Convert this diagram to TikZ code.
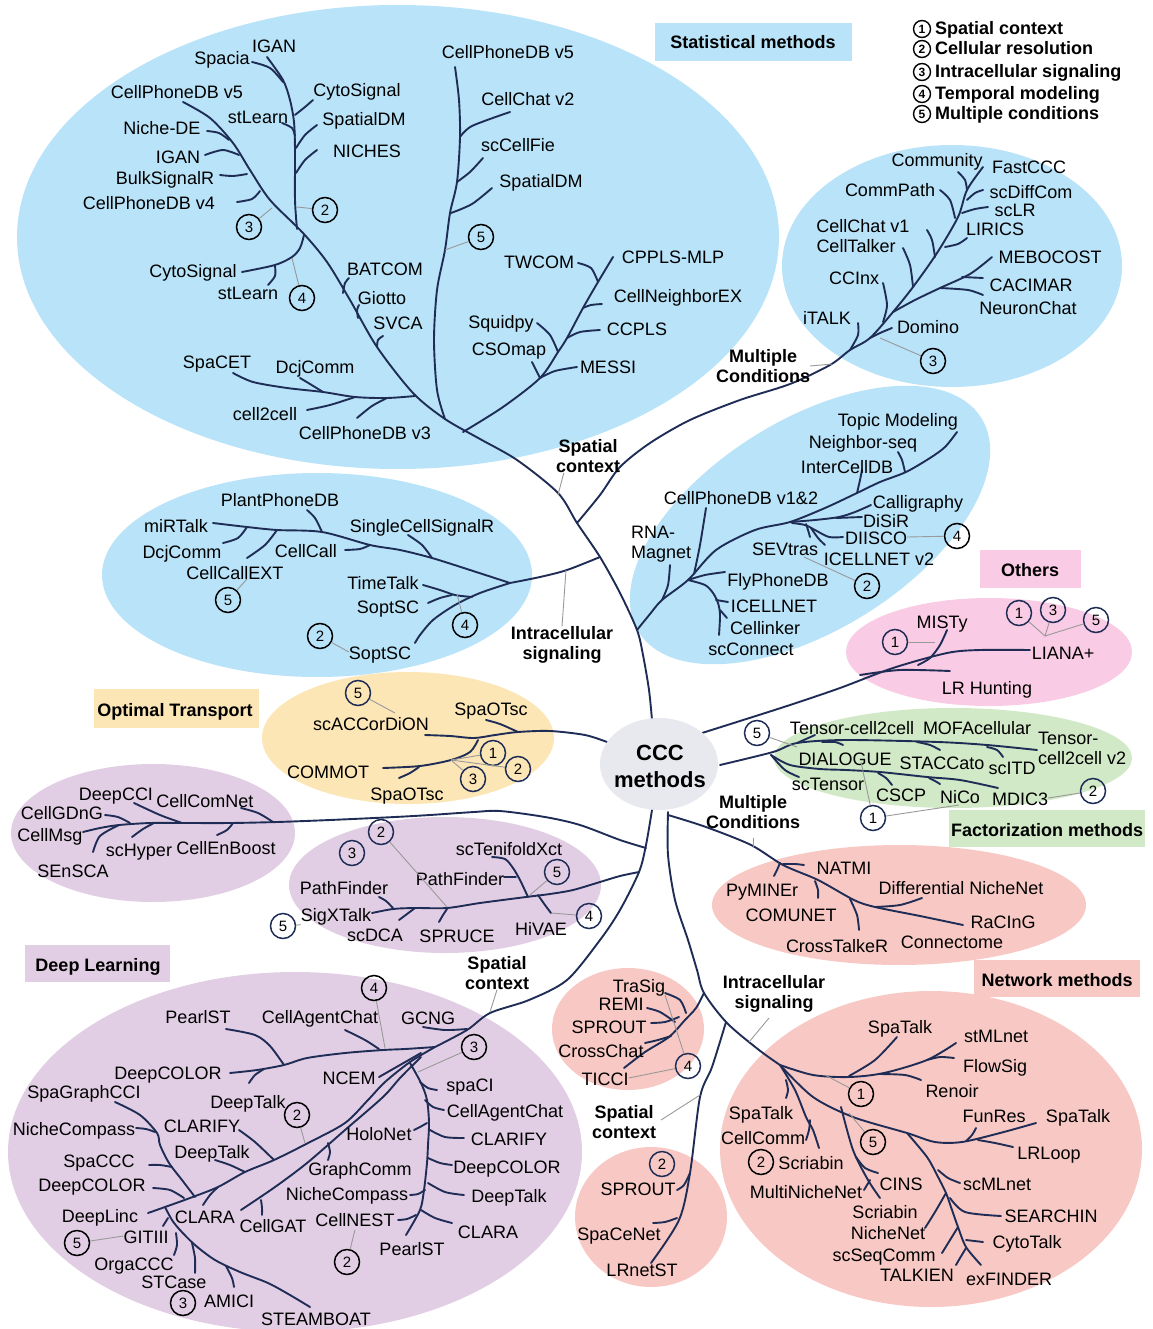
\documentclass[tikz,border=0pt]{standalone}
\usepackage{fontspec}
\setmainfont{Liberation Sans}

\definecolor{navy}{HTML}{1F2D56}
\definecolor{skyfill}{HTML}{B8E3F8}
\definecolor{lilacfill}{HTML}{E2CEE4}
\definecolor{salmonfill}{HTML}{F8C9C4}
\definecolor{pinkfill}{HTML}{F9CBE4}
\definecolor{mintfill}{HTML}{D1E9C6}
\definecolor{sandfill}{HTML}{FCE6B6}
\definecolor{cloudfill}{HTML}{E8E9EE}

\begin{document}
\begin{tikzpicture}[x=1pt, y=-1pt]
\tikzstyle{every node}=[font=\fontsize{18}{20}\selectfont, inner sep=0pt, text height=17.5pt, text depth=3.5pt]
\tikzstyle{branch}=[draw=navy, line width=1.9pt, line cap=round, line join=round]
\tikzstyle{lead}=[draw=gray!80, line width=0.9pt]
\tikzstyle{cnum}=[circle, draw=black, line width=1.5pt, minimum size=25pt, font=\fontsize{15}{15}\selectfont, text height=10.5pt, text depth=0pt]
\tikzstyle{cnumb}=[cnum, draw=navy]
\tikzstyle{legc}=[circle, draw=black, line width=1.4pt, minimum size=17pt, font=\bfseries\fontsize{12}{12}\selectfont, text height=8.6pt, text depth=0pt]
\tikzstyle{grp}=[font=\bfseries\fontsize{18}{20}\selectfont, align=center, text height=, text depth=]
\tikzstyle{tag}=[font=\bfseries\fontsize{18}{20}\selectfont]

\useasboundingbox (0,0) rectangle (1152,1329);

% backgrounds
\fill[skyfill] (398,237) ellipse [x radius=381pt, y radius=232pt]; % statistical
\fill[skyfill] (952,266) ellipse [x radius=170pt, y radius=121pt]; % multiple conditions
\fill[skyfill] (317,575) ellipse [x radius=215pt, y radius=102pt]; % intracellular
\fill[skyfill, rotate around={32:(810,525)}] (810,525) ellipse [x radius=202pt, y radius=105pt]; % spatial
\fill[pinkfill] (989,652) ellipse [x radius=143pt, y radius=54pt];
\fill[mintfill] (953,758) ellipse [x radius=179pt, y radius=50pt];
\fill[sandfill] (408,738) ellipse [x radius=146pt, y radius=66pt];
\fill[lilacfill] (153,833) ellipse [x radius=142pt, y radius=69pt];
\fill[lilacfill] (445,885) ellipse [x radius=156pt, y radius=68pt];
\fill[lilacfill] (295,1152) ellipse [x radius=287pt, y radius=180pt];
\fill[salmonfill] (899,905) ellipse [x radius=187pt, y radius=60pt];
\fill[salmonfill] (628,1029) ellipse [x radius=76pt, y radius=61pt];
\fill[salmonfill] (651,1217) ellipse [x radius=76pt, y radius=70pt];
\fill[salmonfill] (931,1149) ellipse [x radius=211pt, y radius=158pt];

% tag boxes
\fill[skyfill] (655,23) rectangle (852,61);
    \node[tag] (statlbl) at (753,42) {Statistical methods};
\fill[pinkfill] (980,550) rectangle (1081,588);
    \node[tag] (othlbl) at (1030,569) {Others};
\fill[sandfill] (94,689) rectangle (259,728);
    \node[tag] (otlbl) at (175,709) {Optimal Transport};
\fill[mintfill] (949,810) rectangle (1145,847);
    \node[tag] (faclbl) at (1047,829) {Factorization methods};
\fill[lilacfill] (25,945) rectangle (170,982);
    \node[tag] (dllbl) at (98,964) {Deep Learning};
\fill[salmonfill] (974,960) rectangle (1140,997);
    \node[tag] (netlbl) at (1057,979) {Network methods};

% legend
\node[legc] (lc1) at (922,29) {1};
\node[legc] (lc2) at (922,49) {2};
\node[legc] (lc3) at (922,72) {3};
\node[legc] (lc4) at (922,94) {4};
\node[legc] (lc5) at (922,114) {5};
\node[tag, anchor=west] (leg1) at (935,28) {Spatial context};
\node[tag, anchor=west] (leg2) at (935,48) {Cellular resolution};
\node[tag, anchor=west] (leg3) at (935,71) {Intracellular signaling};
\node[tag, anchor=west] (leg4) at (935,93) {Temporal modeling};
\node[tag, anchor=west] (leg5) at (935,113) {Multiple conditions};

%% ---------------- statistical methods
\draw[branch] plot[smooth] coordinates {(652,720) (649,690) (643,655) (637,630) (620,593) (600,557) (577,523) (558,493) (517,460) (480,439) (445,419) (413,393) (377,347) (350,300) (327,262) (303,233) (270,200) (250,170) (233,143) (210,118) (183,102)}; % trunk
\draw[branch] plot[smooth] coordinates {(297,229) (295,200) (295,150) (294,122) (290,100) (283,80) (267,57)}; % IGAN stem
\draw[branch] plot[smooth] coordinates {(252,62) (270,68) (283,82)};
\draw[branch] plot[smooth] coordinates {(295,115) (305,107) (313,100)};
\draw[branch] plot[smooth] coordinates {(282,123) (292,128) (295,136)};
\draw[branch] plot[smooth] coordinates {(296,148) (305,135) (317,125)};
\draw[branch] plot[smooth] coordinates {(296,173) (305,160) (317,150)};
\draw[branch] plot[smooth] coordinates {(207,131) (219,133) (229,140)}; % Niche-DE
\draw[branch] plot[smooth] coordinates {(205,155) (223,150) (239,155)};
\draw[branch] plot[smooth] coordinates {(220,175) (233,176) (247,174)};
\draw[branch] plot[smooth] coordinates {(237,202) (252,199) (260,191)};
\draw[branch] plot[smooth] coordinates {(304,235) (300,248) (292,257) (275,265) (242,272)}; % CytoSignal
\draw[branch] plot[smooth] coordinates {(275,266) (275,276) (268,285)};
\draw[branch] plot[smooth] coordinates {(343,293) (345,283) (349,278)};
\draw[branch] plot[smooth] coordinates {(358,318) (357,310) (359,305)};
\draw[branch] plot[smooth] coordinates {(377,347) (378,340) (383,336)};
\draw[branch] plot[smooth] coordinates {(415,396) (387,398) (355,397) (323,392) (287,388) (253,382) (233,373)}; % SpaCET
\draw[branch] plot[smooth] coordinates {(323,392) (310,384) (300,378)};
\draw[branch] plot[smooth] coordinates {(355,397) (330,405) (307,410)};
\draw[branch] plot[smooth] coordinates {(387,398) (372,406) (357,418)};
\draw[branch] plot[smooth] coordinates {(445,419) (437,390) (434,340) (437,290) (445,250) (450,213) (457,182) (460,137) (459,100) (455,67)}; % CellPhoneDB v5
\draw[branch] plot[smooth] coordinates {(460,137) (472,126) (510,112)};
\draw[branch] plot[smooth] coordinates {(457,182) (470,172) (483,158)};
\draw[branch] plot[smooth] coordinates {(451,213) (472,204) (492,188)};
\draw[branch] plot[smooth] coordinates {(463,432) (503,407) (540,378) (558,352) (567,338) (583,308) (598,282) (613,257)}; % TWCOM
\draw[branch] plot[smooth] coordinates {(540,378) (555,371) (577,367)};
\draw[branch] (540,378) -- (532,362);
\draw[branch] plot[smooth] coordinates {(558,352) (550,335) (537,323)};
\draw[branch] plot[smooth] coordinates {(567,338) (580,332) (600,330)};
\draw[branch] plot[smooth] coordinates {(583,308) (591,305) (602,304)};
\draw[branch] plot[smooth] coordinates {(598,282) (591,268) (578,263)};

\node (igan1) at (274,46) {IGAN};
\node (spacia) at (222,58) {Spacia};
\node (cytosig1) at (357,90) {CytoSignal};
\node (cpdbva) at (177,92) {CellPhoneDB v5};
\node (stlearn1) at (258,117) {stLearn};
\node (spdm1) at (364,119) {SpatialDM};
\node (nichede) at (162,128) {Niche-DE};
\node (niches) at (367,151) {NICHES};
\node (igan2) at (178,157) {IGAN};
\node (bulk) at (165,178) {BulkSignalR};
\node (cpdbiv) at (149,203) {CellPhoneDB v4};
\node (cytosig2) at (193,271) {CytoSignal};
\node (stlearn2) at (248,292) {stLearn};
\node (batcom) at (385,269) {BATCOM};
\node (giotto) at (382,298) {Giotto};
\node (svca) at (398,322) {SVCA};
\node (spacet) at (217,361) {SpaCET};
\node (dcj1) at (315,366) {DcjComm};
\node (ctwoc) at (265,413) {cell2cell};
\node (cpdbiii) at (365,432) {CellPhoneDB v3};
\node (cpdbvb) at (508,52) {CellPhoneDB v5};
\node (cchat2) at (528,99) {CellChat v2};
\node (sccellfie) at (518,145) {scCellFie};
\node (spdm2) at (541,181) {SpatialDM};
\node (twcom) at (539,262) {TWCOM};
\node (cpplsmlp) at (673,257) {CPPLS-MLP};
\node (cnex) at (678,295) {CellNeighborEX};
\node (squidpy) at (501,321) {Squidpy};
\node (ccpls) at (637,328) {CCPLS};
\node (csomap) at (509,348) {CSOmap};
\node (messi) at (608,366) {MESSI};
\node[cnum] (sa2) at (325,210) {2};
\node[cnum] (sa3) at (249,227) {3};
\node[cnum] (sa4) at (302,298) {4};
\node[cnum] (sa5) at (481,237) {5};
\draw[lead] (sa2) -- (297,207);
\draw[lead] (sa3) -- (272,208);
\draw[lead] (sa4) -- (292,258);
\draw[lead] (sa5) -- (445,250);

%% ---------------- multiple conditions (top right)
\draw[branch] plot[smooth] coordinates {(577,523) (600,495) (620,467) (650,443) (690,420) (740,400) (790,384) (830,365) (850,350) (870,338) (893,312) (913,287) (937,253) (958,217) (967,190) (983,167)};
\draw[branch] plot[smooth] coordinates {(850,350) (858,335) (858,323)};
\draw[branch] plot[smooth] coordinates {(870,338) (880,333) (892,328)};
\draw[branch] plot[smooth] coordinates {(883,322) (887,305) (883,283)};
\draw[branch] plot[smooth] coordinates {(893,312) (915,300) (940,288) (970,274) (992,257)};
\draw[branch] (962,277) -- (983,278);
\draw[branch] plot[smooth] coordinates {(940,288) (968,290) (983,295)};
\draw[branch] plot[smooth] coordinates {(913,287) (910,265) (903,248)};
\draw[branch] plot[smooth] coordinates {(935,257) (932,240) (927,230)};
\draw[branch] plot[smooth] coordinates {(945,247) (958,244) (967,238)};
\draw[branch] plot[smooth] coordinates {(955,218) (950,200) (940,190)};
\draw[branch] plot[smooth] coordinates {(962,213) (975,209) (988,207)};
\draw[branch] plot[smooth] coordinates {(967,200) (975,193) (983,190)};
\draw[branch] plot[smooth] coordinates {(967,190) (965,180) (958,172)};
\node (community) at (937,160) {Community};
\node (fastccc) at (1029,167) {FastCCC};
\node (commpath) at (890,190) {CommPath};
\node (scdiffcom) at (1031,192) {scDiffCom};
\node (sclr) at (1015,210) {scLR};
\node (cchat1) at (863,226) {CellChat v1};
\node (lirics) at (995,229) {LIRICS};
\node (celltalker) at (856,246) {CellTalker};
\node (mebocost) at (1050,257) {MEBOCOST};
\node (cacimar) at (1031,284) {CACIMAR};
\node (ccinx) at (854,278) {CCInx};
\node (neuronchat) at (1028,308) {NeuronChat};
\node (italk) at (827,317) {iTALK};
\node (domino) at (928,326) {Domino};
\node[cnum] (mc3) at (933,361) {3};
\draw[lead] (mc3) -- (880,338);
\node[grp] (mctop) at (763,366) {Multiple\\Conditions};
\draw[lead] (mctop.east) -- (832,364);

%% ---------------- intracellular signaling (left)
\draw[branch] plot[smooth] coordinates {(600,557) (567,570) (540,577) (510,583)};
\draw[branch] plot[smooth] coordinates {(510,583) (470,570) (432,558) (400,550) (370,545) (322,532) (277,530) (247,527) (213,523)};
\draw[branch] plot[smooth] coordinates {(322,532) (315,518) (307,510)};
\draw[branch] plot[smooth] coordinates {(432,558) (422,545) (408,535)};
\draw[branch] plot[smooth] coordinates {(370,545) (360,549) (345,550)};
\draw[branch] plot[smooth] coordinates {(247,527) (238,538) (223,543)};
\draw[branch] plot[smooth] coordinates {(277,530) (265,545) (247,558)};
\draw[branch] plot[smooth] coordinates {(510,583) (480,593) (455,605) (433,620) (420,635) (415,643)};
\draw[branch] plot[smooth] coordinates {(423,585) (440,590) (455,595) (472,597)};
\draw[branch] plot[smooth] coordinates {(428,603) (440,598) (452,595)};
\node (plantphonedb) at (280,499) {PlantPhoneDB};
\node (mirtalk) at (176,525) {miRTalk};
\node (scsignalr) at (422,525) {SingleCellSignalR};
\node (dcj2) at (182,551) {DcjComm};
\node (cellcall) at (306,550) {CellCall};
\node (cellcallext) at (235,572) {CellCallEXT};
\node (timetalk) at (383,582) {TimeTalk};
\node (soptsc1) at (388,606) {SoptSC};
\node (soptsc2) at (380,652) {SoptSC};
\node[cnum] (is5) at (228,600) {5};
\node[cnum] (is4) at (465,625) {4};
\node[cnum] (is2) at (320,636) {2};
\draw[lead] (is5) -- (247,579);
\draw[lead] (is4) -- (457,594);
\draw[lead] (is2) -- (soptsc2.west);
\node[grp] (isig) at (562,645) {Intracellular\\signaling};
\draw[lead] (isig.north) -- (566,570);
\node[grp] (sctop) at (588,456) {Spatial\\context};
\draw[lead] (sctop.south west) ++(8,0) -- (558,495);

%% ---------------- spatial context (right)
\draw[branch] plot[smooth] coordinates {(637,630) (650,614) (662,600) (688,580) (716,550) (755,530) (790,522) (825,508) (857,493) (880,482) (906,472) (930,458) (945,447) (957,432)};
\draw[branch] plot[smooth] coordinates {(662,600) (668,585) (670,565)};
\draw[branch] plot[smooth] coordinates {(694,574) (700,545) (706,508)};
\draw[branch] plot[smooth] coordinates {(688,580) (705,575) (725,572)};
\draw[branch] plot[smooth] coordinates {(688,580) (705,585) (713,593) (718,603) (720,615) (719,635)};
\draw[branch] (716,600) -- (728,602);
\draw[branch] (720,610) -- (727,618);
\draw[branch] plot[smooth] coordinates {(790,522) (815,520) (839,517) (855,512) (871,505)};
\draw[branch] (836,518) -- (862,517);
\draw[branch] plot[smooth] coordinates {(792,523) (805,525) (815,530) (829,537) (843,537)};
\draw[branch] plot[smooth] coordinates {(811,528) (818,538) (825,545)};
\draw[branch] plot[smooth] coordinates {(806,524) (808,530) (810,537)};
\draw[branch] plot[smooth] coordinates {(857,493) (860,480) (862,470)};
\draw[branch] plot[smooth] coordinates {(905,472) (902,460) (898,452)};
\node (topicmod) at (898,419) {Topic Modeling};
\node (neighborseq) at (863,441) {Neighbor-seq};
\node (intercelldb) at (847,466) {InterCellDB};
\node (cpdbold) at (741,497) {CellPhoneDB v1\&2};
\node (calligraphy) at (918,501) {Calligraphy};
\node[align=left, text height=, text depth=, anchor=north west] (rnamagnet) at (631,526) {RNA-\\Magnet};
\node (disir) at (886,520) {DiSiR};
\node (diisco) at (876,537) {DIISCO};
\node (sevtras) at (785,548) {SEVtras};
\node (icellnet2) at (879,558) {ICELLNET v2};
\node (flyphonedb) at (778,579) {FlyPhoneDB};
\node (icellnet) at (774,605) {ICELLNET};
\node (cellinker) at (765,627) {Cellinker};
\node (scconnect) at (751,648) {scConnect};
\node[cnum] (sp4) at (957,536) {4};
\node[cnum] (sp2) at (867,586) {2};
\draw[lead] (diisco.east) -- (sp4);
\draw[lead] (804,557) -- (sp2);

%% ---------------- others
\draw[branch] plot[smooth] coordinates {(702,733) (740,721) (790,705) (840,688) (893,668) (947,653) (980,650) (1030,650)};
\draw[branch] plot[smooth] coordinates {(860,675) (900,670) (950,671)};
\draw[branch] plot[smooth] coordinates {(918,665) (930,658) (940,645) (947,630)};
\node (misty) at (942,621) {MISTy};
\node (liana) at (1063,652) {LIANA+};
\node (lrhunting) at (987,687) {LR Hunting};
\node[cnumb] (ot1) at (895,642) {1};
\node[cnumb] (otb1) at (1019,613) {1};
\node[cnumb] (otb3) at (1053,610) {3};
\node[cnumb] (otb5) at (1096,620) {5};
\coordinate (hub) at (1045,636);
\draw[lead] (ot1) -- (935,642);
\draw[lead] (otb1) -- (hub) -- (otb3);
\draw[lead] (otb5) -- (hub);

%% ---------------- factorization
\draw[branch] plot[smooth] coordinates {(720,765) (773,752) (797,743) (846,740) (938,742) (987,745) (1037,750)};
\draw[branch] (797,743) -- (815,735);
\draw[branch] plot[smooth] coordinates {(822,742) (835,742) (843,745)};
\draw[branch] plot[smooth] coordinates {(917,742) (930,745) (940,750)};
\draw[branch] plot[smooth] coordinates {(987,747) (997,750) (1003,757)};
\draw[branch] plot[smooth] coordinates {(771,755) (790,765) (820,769) (846,770) (880,772) (927,777) (960,780) (998,788)};
\draw[branch] plot[smooth] coordinates {(771,755) (785,770) (799,777)};
\draw[branch] plot[smooth] coordinates {(878,773) (886,778) (892,785)};
\draw[branch] plot[smooth] coordinates {(929,778) (935,781) (940,784)};
\node (tensorcc) at (852,727) {Tensor-cell2cell};
\node (mofacell) at (977,727) {MOFAcellular};
\node[align=left, text height=, text depth=, anchor=north west] (tensorcc2) at (1038,732) {Tensor-\\cell2cell v2};
\node (dialogue) at (845,758) {DIALOGUE};
\node (staccato) at (942,762) {STACCato};
\node (scitd) at (1012,767) {scITD};
\node (sctensor) at (828,783) {scTensor};
\node (cscp) at (901,794) {CSCP};
\node (nico) at (960,796) {NiCo};
\node (mdic) at (1020,798) {MDIC3};
\node[cnumb] (fa5) at (757,733) {5};
\node[cnumb] (fa1) at (873,818) {1};
\node[cnumb] (fa2) at (1093,791) {2};
\draw[lead] (fa5) -- (797,747);
\draw[lead] (fa1) -- (861,762);
\draw[lead] (fa1) -- (959,805);
\draw[lead] (mdic.east) -- (fa2);

%% ---------------- optimal transport
\draw[branch] plot[smooth] coordinates {(607,742) (585,735) (550,731) (518,732) (495,735) (474,738) (450,736) (425,735)};
\draw[branch] plot[smooth] coordinates {(518,732) (500,724) (486,720)};
\draw[branch] plot[smooth] coordinates {(478,740) (470,752) (451,760) (420,766) (383,768)};
\draw[branch] plot[smooth] coordinates {(419,767) (410,773) (399,778)};
\node (scaccordion) at (371,723) {scACCorDiON};
\node (spaotsc1) at (491,708) {SpaOTsc};
\node (commot) at (328,771) {COMMOT};
\node (spaotsc2) at (407,793) {SpaOTsc};
\node[cnumb] (op5) at (358,693) {5};
\node[cnumb] (op1) at (493,753) {1};
\node[cnumb] (op2) at (518,769) {2};
\node[cnumb] (op3) at (473,779) {3};
\draw[lead] (op5) -- (395,713);
\draw[lead] (451,760) -- (op1);
\draw[lead] (451,760) -- (op2);
\draw[lead] (451,760) -- (op3);

%% ---------------- deep learning (upper two groups)
\draw[branch] plot[smooth] coordinates {(652,810) (646,845) (639,872) (620,910) (600,940) (567,980) (529,1000) (490,1013) (467,1030) (435,1047)}; % DL trunk
\draw[branch] plot[smooth] coordinates {(646,848) (620,840) (580,825) (545,817) (500,811) (474,812) (430,815) (395,817) (330,820) (277,822) (230,823) (182,823) (150,823) (119,825) (100,828) (83,832)};
\draw[branch] plot[smooth] coordinates {(273,822) (258,813) (241,808)};
\draw[branch] plot[smooth] coordinates {(233,823) (227,830) (217,835)};
\draw[branch] plot[smooth] coordinates {(182,823) (160,815) (134,803)};
\draw[branch] plot[smooth] coordinates {(154,823) (143,829) (132,837)};
\draw[branch] plot[smooth] coordinates {(130,823) (118,817) (105,815)};
\draw[branch] plot[smooth] coordinates {(119,825) (100,836) (93,852)};
\node (deepcci) at (116,793) {DeepCCI};
\node (cellcomnet) at (205,800) {CellComNet};
\node (cellgdng) at (62,812) {CellGDnG};
\node (cellmsg) at (50,834) {CellMsg};
\node (schyper) at (139,849) {scHyper};
\node (cellenboost) at (226,847) {CellEnBoost};
\node (sensca) at (73,870) {SEnSCA};

\draw[branch] plot[smooth] coordinates {(639,872) (620,876) (600,882) (573,890) (550,894) (526,897) (480,903) (447,908) (415,908) (393,909) (372,913)};
\draw[branch] plot[smooth] coordinates {(393,908) (386,901) (379,897)};
\draw[branch] plot[smooth] coordinates {(415,908) (407,914) (399,920)};
\draw[branch] plot[smooth] coordinates {(447,909) (443,915) (439,922)};
\draw[branch] plot[smooth] coordinates {(528,897) (520,880) (513,868) (505,859) (492,857)};
\draw[branch] (504,877) -- (516,877);
\draw[branch] plot[smooth] coordinates {(538,895) (545,905) (551,913)};
\node (sctenifold) at (509,848) {scTenifoldXct};
\node (pathfinder2) at (460,878) {PathFinder};
\node (pathfinder1) at (344,887) {PathFinder};
\node (sigxtalk) at (336,914) {SigXTalk};
\node (scdca) at (375,934) {scDCA};
\node (spruce) at (457,935) {SPRUCE};
\node (hivae) at (541,928) {HiVAE};
\node[cnumb] (pf2) at (381,832) {2};
\node[cnumb] (pf3) at (352,853) {3};
\node[cnumb] (pf5r) at (557,872) {5};
\node[cnumb] (pf5l) at (283,926) {5};
\node[cnumb] (pf4) at (589,916) {4};
\draw[lead] (pf2) -- (447,907);
\draw[lead] (530,895) -- (pf5r);
\draw[lead] (551,913) -- (pf4);
\draw[lead] (pf5l) -- (sigxtalk.south west);

%% ---------------- deep learning (big group)
\draw[branch] plot[smooth] coordinates {(423,1027) (445,1030) (467,1029)}; % GCNG
\draw[branch] plot[smooth] coordinates {(435,1047) (405,1049) (383,1050) (345,1053) (307,1058) (284,1065) (257,1070) (230,1073)};
\draw[branch] plot[smooth] coordinates {(379,1049) (365,1040) (345,1030)};
\draw[branch] plot[smooth] coordinates {(284,1065) (270,1046) (255,1035) (226,1029)};
\draw[branch] plot[smooth] coordinates {(264,1069) (255,1075) (249,1083)};
\draw[branch] plot[smooth] coordinates {(379,1077) (400,1065) (421,1053)}; % NCEM
\draw[branch] plot[smooth] coordinates {(435,1047) (410,1062) (385,1082) (368,1100) (345,1123) (310,1142) (274,1160) (245,1172) (218,1187) (190,1198) (165,1207) (148,1213)}; % DeepLinc
\draw[branch] plot[smooth] coordinates {(245,1172) (230,1165) (215,1160)};
\draw[branch] plot[smooth] coordinates {(274,1160) (255,1142) (239,1130)};
\draw[branch] plot[smooth] coordinates {(218,1187) (210,1195) (203,1205)};
\draw[branch] plot[smooth] coordinates {(421,1057) (400,1078) (383,1097) (345,1130) (307,1163) (275,1187) (241,1210)}; % CLARA
\draw[branch] plot[smooth] coordinates {(328,1143) (330,1152) (328,1160)};
\draw[branch] plot[smooth] coordinates {(261,1200) (262,1208) (262,1215)};
\draw[branch] plot[smooth] coordinates {(410,1063) (421,1083) (427,1100) (429,1123) (428,1145) (427,1163) (424,1190) (420,1210) (406,1235)}; % PearlST
\draw[branch] plot[smooth] coordinates {(420,1082) (428,1088) (437,1090)};
\draw[branch] plot[smooth] coordinates {(425,1100) (433,1107) (444,1110)};
\draw[branch] plot[smooth] coordinates {(427,1123) (420,1127) (414,1130)};
\draw[branch] plot[smooth] coordinates {(430,1130) (445,1137) (464,1138)};
\draw[branch] plot[smooth] coordinates {(428,1158) (440,1163) (452,1165)};
\draw[branch] plot[smooth] coordinates {(428,1183) (445,1192) (464,1195)};
\draw[branch] plot[smooth] coordinates {(425,1190) (418,1194) (410,1195)};
\draw[branch] plot[smooth] coordinates {(421,1210) (435,1218) (452,1223)};
\draw[branch] plot[smooth] coordinates {(416,1215) (407,1219) (398,1220)};
\draw[branch] plot[smooth] coordinates {(165,1207) (172,1220) (180,1230) (195,1245) (215,1260) (240,1272) (268,1283) (290,1295) (310,1307)}; % STEAMBOAT
\draw[branch] (163,1226) -- (168,1218);
\draw[branch] plot[smooth] coordinates {(176,1233) (177,1245) (174,1255)};
\draw[branch] plot[smooth] coordinates {(192,1243) (195,1258) (195,1273)};
\draw[branch] plot[smooth] coordinates {(226,1266) (232,1278) (234,1287)};
\draw[branch] plot[smooth] coordinates {(195,1197) (182,1180) (169,1163) (160,1145) (157,1133) (140,1115) (115,1102)}; % SpaGraphCCI
\draw[branch] plot[smooth] coordinates {(155,1132) (146,1129) (136,1128)};
\draw[branch] plot[smooth] coordinates {(172,1167) (160,1165) (149,1165)};
\draw[branch] plot[smooth] coordinates {(184,1198) (170,1190) (153,1188)};
\node (pearlst1) at (198,1016) {PearlST};
\node (cagentchat1) at (320,1016) {CellAgentChat};
\node (gcng) at (428,1017) {GCNG};
\node (deepcolor1) at (168,1072) {DeepCOLOR};
\node (ncem) at (349,1077) {NCEM};
\node (spagraphcci) at (84,1091) {SpaGraphCCI};
\node (deeptalk1) at (248,1101) {DeepTalk};
\node (spaci) at (470,1084) {spaCI};
\node (cagentchat2) at (505,1110) {CellAgentChat};
\node (nichecomp1) at (74,1128) {NicheCompass};
\node (clarify1) at (202,1125) {CLARIFY};
\node (holonet) at (379,1133) {HoloNet};
\node (clarify2) at (509,1138) {CLARIFY};
\node (spaccc) at (99,1160) {SpaCCC};
\node (deeptalk2) at (212,1151) {DeepTalk};
\node (graphcomm) at (360,1168) {GraphComm};
\node (deepcolor2) at (507,1166) {DeepCOLOR};
\node (deepcolor3) at (92,1184) {DeepCOLOR};
\node (nichecomp2) at (347,1193) {NicheCompass};
\node (deeptalk3) at (509,1195) {DeepTalk};
\node (deeplinc) at (100,1215) {DeepLinc};
\node (clara1) at (205,1216) {CLARA};
\node (cellgat) at (273,1225) {CellGAT};
\node (cellnest) at (355,1219) {CellNEST};
\node (clara2) at (488,1231) {CLARA};
\node (gitiii) at (146,1236) {GITIII};
\node (pearlst2) at (412,1248) {PearlST};
\node (orgaccc) at (134,1263) {OrgaCCC};
\node (stcase) at (174,1281) {STCase};
\node (amici) at (229,1300) {AMICI};
\node (steamboat) at (316,1318) {STEAMBOAT};
\node[cnum] (dl4) at (374,988) {4};
\node[cnum] (dl3) at (474,1047) {3};
\node[cnum] (dl2) at (297,1115) {2};
\node[cnum] (dl5) at (77,1243) {5};
\node[cnum] (dl2b) at (347,1262) {2};
\node[cnum] (dl3b) at (183,1303) {3};
\draw[lead] (dl4) -- (385,1048);
\draw[lead] (dl3) -- (418,1072);
\draw[lead] (dl2) -- (305,1143);
\draw[lead] (dl5) -- (gitiii.west);
\draw[lead] (dl2b) -- (cellnest.south);
\node[grp] (scdl) at (497,973) {Spatial\\context};
\draw[lead] (scdl.south) -- (490,1012);

%% ---------------- network methods
\draw[branch] plot[smooth] coordinates {(668,812) (668,855) (675,900) (688,940) (697,970) (704,993) (727,1023) (759,1050) (780,1065)};
\draw[branch] plot[smooth] coordinates {(668,815) (706,827) (751,845) (783,865) (818,880) (854,900) (875,907) (920,916) (963,925)}; % NATMI
\draw[branch] plot[smooth] coordinates {(783,864) (795,864) (804,865)};
\draw[branch] plot[smooth] coordinates {(780,863) (777,870) (774,876)};
\draw[branch] plot[smooth] coordinates {(815,881) (818,890) (818,898)};
\draw[branch] plot[smooth] coordinates {(850,899) (857,915) (859,930)};
\draw[branch] plot[smooth] coordinates {(875,907) (900,905) (922,898)};
\node (natmi) at (844,867) {NATMI};
\node (pyminer) at (762,889) {PyMINEr};
\node (diffnichenet) at (961,887) {Differential NicheNet};
\node (comunet) at (791,914) {COMUNET};
\node (racing) at (1003,921) {RaCInG};
\node (connectome) at (952,941) {Connectome};
\node (crosstalker) at (837,945) {CrossTalkeR};
\node[grp] (mcbot) at (753,812) {Multiple\\Conditions};
\draw[lead] (753,838) -- (753,848);

\draw[branch] plot[smooth] coordinates {(780,1065) (813,1075) (849,1077) (884,1073) (927,1060) (956,1043)};
\draw[branch] plot[smooth] coordinates {(849,1076) (875,1060) (897,1037)};
\draw[branch] plot[smooth] coordinates {(927,1060) (940,1057) (954,1058)};
\draw[branch] plot[smooth] coordinates {(880,1074) (905,1075) (921,1080)};
\draw[branch] plot[smooth] coordinates {(780,1065) (813,1097) (853,1117) (907,1133) (935,1142) (962,1142) (1000,1133) (1036,1123)};
\draw[branch] plot[smooth] coordinates {(966,1141) (972,1135) (976,1128)};
\draw[branch] plot[smooth] coordinates {(978,1140) (995,1143) (1013,1147)};
\draw[branch] plot[smooth] coordinates {(907,1133) (927,1157) (937,1175) (946,1193) (952,1210) (958,1227) (966,1247) (981,1265)};
\draw[branch] plot[smooth] coordinates {(938,1170) (948,1178) (960,1183)};
\draw[branch] plot[smooth] coordinates {(950,1198) (965,1212) (1001,1216)};
\draw[branch] plot[smooth] coordinates {(946,1193) (935,1212) (925,1228)};
\draw[branch] plot[smooth] coordinates {(958,1227) (950,1240) (942,1253)};
\draw[branch] plot[smooth] coordinates {(966,1248) (960,1258) (956,1265)};
\draw[branch] (966,1240) -- (983,1242);
\draw[branch] plot[smooth] coordinates {(786,1080) (788,1090) (786,1098)};
\draw[branch] plot[smooth] coordinates {(780,1065) (795,1090) (806,1117) (813,1130) (819,1148)};
\draw[branch] plot[smooth] coordinates {(810,1120) (809,1130) (806,1140)};
\draw[branch] plot[smooth] coordinates {(841,1107) (853,1150) (868,1180) (880,1198)};
\draw[branch] plot[smooth] coordinates {(856,1157) (865,1168) (878,1173)};
\draw[branch] plot[smooth] coordinates {(870,1180) (867,1185) (864,1190)};
\node (spatalk1) at (900,1026) {SpaTalk};
\node (stmlnet) at (996,1035) {stMLnet};
\node (flowsig) at (995,1065) {FlowSig};
\node (renoir) at (952,1090) {Renoir};
\node (funres) at (994,1115) {FunRes};
\node (spatalk2) at (1078,1115) {SpaTalk};
\node (spatalk3) at (761,1112) {SpaTalk};
\node (lrloop) at (1049,1152) {LRLoop};
\node (cellcomm) at (763,1137) {CellComm};
\node (scriabin1) at (811,1162) {Scriabin};
\node (cins) at (901,1183) {CINS};
\node (scmlnet) at (997,1183) {scMLnet};
\node (multinichenet) at (806,1191) {MultiNicheNet};
\node (scriabin2) at (885,1211) {Scriabin};
\node (searchin) at (1051,1215) {SEARCHIN};
\node (nichenet) at (888,1232) {NicheNet};
\node (cytotalk) at (1027,1241) {CytoTalk};
\node (scseqcomm) at (884,1254) {scSeqComm};
\node (talkien) at (917,1274) {TALKIEN};
\node (exfinder) at (1009,1278) {exFINDER};
\node[cnum] (nw1) at (861,1094) {1};
\node[cnum] (nw5) at (873,1142) {5};
\node[cnum] (nw2) at (761,1162) {2};
\draw[lead] (825,1075) -- (nw1);
\draw[lead] (849,1113) -- (nw5);
\node[grp] (isbot) at (774,994) {Intracellular\\signaling};
\draw[lead] (769,1018) -- (749,1042);

%% ---------------- small network groups
\draw[branch] plot[smooth] coordinates {(704,993) (696,1008) (685,1020) (669,1037) (645,1052) (624,1068)}; % TICCI
\draw[branch] plot[smooth] coordinates {(686,1013) (680,1000) (665,993)};
\draw[branch] plot[smooth] coordinates {(675,1022) (660,1012) (647,1008)};
\draw[branch] plot[smooth] coordinates {(679,1017) (665,1022) (651,1023)};
\draw[branch] plot[smooth] coordinates {(671,1036) (658,1040) (645,1043)};
\node (trasig) at (639,985) {TraSig};
\node (remi) at (621,1003) {REMI};
\node (sprout1) at (609,1026) {SPROUT};
\node (crosschat) at (601,1050) {CrossChat};
\node (ticci) at (605,1078) {TICCI};
\node[cnumb] (tr4) at (688,1066) {4};
\draw[lead] (665,995) -- (tr4);
\draw[lead] (ticci.east) -- (tr4);

\draw[branch] plot[smooth] coordinates {(726,1022) (712,1067) (700,1097) (690,1173) (679,1220) (651,1263)}; % LRnetST
\draw[branch] plot[smooth] coordinates {(690,1173) (684,1185) (677,1190)};
\draw[branch] plot[smooth] coordinates {(677,1218) (665,1222) (653,1223)};
\node (sprout2) at (638,1188) {SPROUT};
\node (spacenet) at (619,1233) {SpaCeNet};
\node (lrnetst) at (642,1269) {LRnetST};
\node[cnumb] (sr2) at (662,1164) {2};
\node[grp] (scbot) at (624,1122) {Spatial\\context};
\draw[lead] (661,1120) -- (700,1095);

%% ---------------- centre
\fill[cloudfill] (659,764) ellipse [x radius=59pt, y radius=46pt];
\node[font=\bfseries\fontsize{22}{27}\selectfont, align=center, text height=, text depth=] (ccc) at (660,766) {CCC\\methods};

\end{tikzpicture}
\end{document}
